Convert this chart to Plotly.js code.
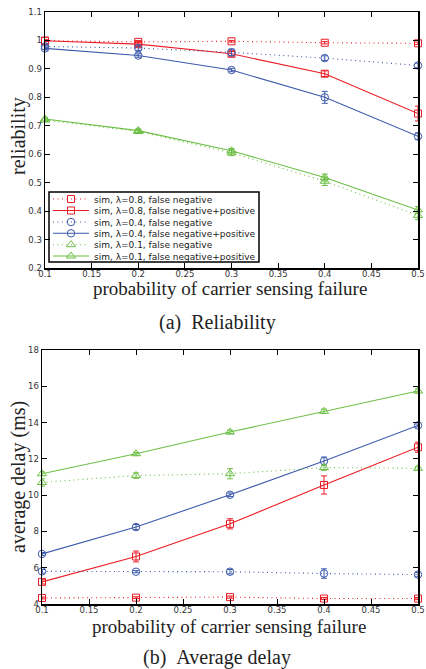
<!DOCTYPE html>
<html>
<head>
<meta charset="utf-8">
<script src="https://cdn.plot.ly/plotly-3.0.1.min.js"></script>
<style>html,body{margin:0;padding:0;background:#fff;}#chart{width:426px;height:669px;}</style>
</head>
<body>
<div id="chart"></div>
<script>
// ---------- data ----------
const xProb = [0.1, 0.2, 0.3, 0.4, 0.5];

// (a) reliability
const relL08FN   = [0.999, 0.995, 0.997, 0.992, 0.990];
const relL08FNe  = [0.003, 0.003, 0.003, 0.004, 0.004];
const relL08FNP  = [0.999, 0.987, 0.953, 0.883, 0.743];
const relL08FNPe = [0.003, 0.008, 0.008, 0.010, 0.026];
const relL04FN   = [0.979, 0.973, 0.958, 0.938, 0.912];
const relL04FNe  = [0.005, 0.008, 0.012, 0.008, 0.008];
const relL04FNP  = [0.972, 0.947, 0.896, 0.800, 0.663];
const relL04FNPe = [0.005, 0.006, 0.006, 0.021, 0.012];
const relL01FN   = [0.720, 0.680, 0.605, 0.505, 0.385];
const relL01FNe  = [0.005, 0.006, 0.010, 0.015, 0.015];
const relL01FNP  = [0.724, 0.683, 0.612, 0.518, 0.404];
const relL01FNPe = [0.005, 0.006, 0.008, 0.012, 0.012];

// (b) average delay (ms)
const dlyL08FN   = [4.33, 4.35, 4.38, 4.30, 4.30];
const dlyL08FNe  = [0.05, 0.05, 0.06, 0.06, 0.06];
const dlyL08FNP  = [5.22, 6.62, 8.42, 10.56, 12.64];
const dlyL08FNPe = [0.12, 0.30, 0.28, 0.50, 0.28];
const dlyL04FN   = [5.80, 5.78, 5.78, 5.68, 5.62];
const dlyL04FNe  = [0.10, 0.06, 0.12, 0.26, 0.12];
const dlyL04FNP  = [6.76, 8.24, 10.02, 11.88, 13.84];
const dlyL04FNPe = [0.08, 0.14, 0.10, 0.22, 0.08];
const dlyL01FN   = [10.70, 11.08, 11.18, 11.52, 11.48];
const dlyL01FNe  = [0.20, 0.15, 0.28, 0.15, 0.10];
const dlyL01FNP  = [11.18, 12.28, 13.48, 14.62, 15.74];
const dlyL01FNPe = [0.10, 0.08, 0.10, 0.12, 0.12];

const seriesNames = [
  "sim, \u03bb=0.8, false negative",
  "sim, \u03bb=0.8, false negative+positive",
  "sim, \u03bb=0.4, false negative",
  "sim, \u03bb=0.4, false negative+positive",
  "sim, \u03bb=0.1, false negative",
  "sim, \u03bb=0.1, false negative+positive"
];

const relTicks = [0.2, 0.3, 0.4, 0.5, 0.6, 0.7, 0.8, 0.9, 1.0, 1.1];
const relTickText = ["0.2","0.3","0.4","0.5","0.6","0.7","0.8","0.9","1","1.1"];
const dlyTicks = [4, 6, 8, 10, 12, 14, 16, 18];
const xTicks = [0.1, 0.15, 0.2, 0.25, 0.3, 0.35, 0.4, 0.45, 0.5];
const xTickText = ["0.1","0.15","0.2","0.25","0.3","0.35","0.4","0.45","0.5"];

// ---------- styling ----------
const W = 426, H = 669;
const px = v => v / W;
const py = v => 1 - v / H;
const RED = "#ec1c24", BLUE = "#3d5aab", GREEN = "#6cbf45";
const colors = [RED, RED, BLUE, BLUE, GREEN, GREEN];
const symbols = ["square-open","square-open","circle-open","circle-open","triangle-up-open","triangle-up-open"];
const dashes = ["1px,3.5px","solid","1px,3.5px","solid","1px,3.5px","solid"];
const sizes = [7, 7, 7.5, 7.5, 8, 8];

const relY = [relL08FN, relL08FNP, relL04FN, relL04FNP, relL01FN, relL01FNP];
const relE = [relL08FNe, relL08FNPe, relL04FNe, relL04FNPe, relL01FNe, relL01FNPe];
const dlyY = [dlyL08FN, dlyL08FNP, dlyL04FN, dlyL04FNP, dlyL01FN, dlyL01FNP];
const dlyE = [dlyL08FNe, dlyL08FNPe, dlyL04FNe, dlyL04FNPe, dlyL01FNe, dlyL01FNPe];

const legendIds = ["legend","legend2","legend3","legend4","legend5","legend6"];

const traces = [];
for (let i = 0; i < 6; i++) {
  traces.push({
    x: xProb, y: relY[i], type: "scatter", mode: "lines+markers",
    name: seriesNames[i], legend: legendIds[i], showlegend: true,
    xaxis: "x", yaxis: "y", cliponaxis: false,
    line: {color: colors[i], width: 1.1, dash: dashes[i]},
    marker: {symbol: symbols[i], size: sizes[i], color: colors[i], line: {width: 1, color: colors[i]}},
    error_y: {type: "data", array: relE[i], visible: true, color: colors[i], thickness: 1, width: 3}
  });
}
for (let i = 0; i < 6; i++) {
  traces.push({
    x: xProb, y: dlyY[i], type: "scatter", mode: "lines+markers",
    name: seriesNames[i], showlegend: false,
    xaxis: "x2", yaxis: "y2", cliponaxis: false,
    line: {color: colors[i], width: 1.1, dash: dashes[i]},
    marker: {symbol: symbols[i], size: sizes[i], color: colors[i], line: {width: 1, color: colors[i]}},
    error_y: {type: "data", array: dlyE[i], visible: true, color: colors[i], thickness: 1, width: 3}
  });
}

const tickFont = {family: "DejaVu Sans", size: 8.5, color: "#333"};
const axBase = {
  showline: true, linecolor: "#000", linewidth: 1.5, mirror: "ticks",
  ticks: "inside", ticklen: 5, tickwidth: 1, tickcolor: "#000",
  showgrid: false, zeroline: false, tickfont: tickFont, automargin: false
};

const legRows = [199, 210.5, 222, 233.3, 244.7, 256];
const layout = {
  width: W, height: H,
  margin: {l: 0, r: 0, t: 0, b: 0},
  paper_bgcolor: "#fff", plot_bgcolor: "#fff",
  showlegend: true,
  xaxis: Object.assign({}, axBase, {domain: [px(45), px(418)], range: [0.1, 0.5], tickvals: xTicks, ticktext: xTickText, anchor: "y", ticklabelstandoff: -3}),
  yaxis: Object.assign({}, axBase, {domain: [py(268), py(12)], range: [0.2, 1.1], tickvals: relTicks, ticktext: relTickText, anchor: "x"}),
  xaxis2: Object.assign({}, axBase, {domain: [px(42), px(418)], range: [0.1, 0.5], tickvals: xTicks, ticktext: xTickText, anchor: "y2", ticklabelstandoff: -3}),
  yaxis2: Object.assign({}, axBase, {domain: [py(604), py(350)], range: [4, 18], tickvals: dlyTicks, anchor: "x2"}),
  shapes: [{
    type: "rect", xref: "paper", yref: "paper",
    x0: px(49), x1: px(259), y0: py(262), y1: py(192),
    line: {color: "#000", width: 1.5}, fillcolor: "rgba(255,255,255,0)", layer: "above"
  }],
  annotations: [
    {text: "probability of carrier sensing failure", x: px(230), y: py(288.5), xref: "paper", yref: "paper", xanchor: "center", yanchor: "middle", showarrow: false, font: {family: "Liberation Serif", size: 19, color: "#222"}},
    {text: "probability of carrier sensing failure", x: px(229), y: py(626.5), xref: "paper", yref: "paper", xanchor: "center", yanchor: "middle", showarrow: false, font: {family: "Liberation Serif", size: 19, color: "#222"}},
    {text: "reliability", x: px(18), y: py(136), xref: "paper", yref: "paper", xanchor: "center", yanchor: "middle", textangle: -90, showarrow: false, font: {family: "Liberation Serif", size: 20, color: "#222"}},
    {text: "average delay (ms)", x: px(19), y: py(477), xref: "paper", yref: "paper", xanchor: "center", yanchor: "middle", textangle: -90, showarrow: false, font: {family: "Liberation Serif", size: 20, color: "#222"}},
    {text: "(a)\u2002Reliability", x: px(217), y: py(322), xref: "paper", yref: "paper", xanchor: "center", yanchor: "middle", showarrow: false, font: {family: "Liberation Serif", size: 20, color: "#222"}},
    {text: "(b)\u2002Average delay", x: px(217), y: py(657), xref: "paper", yref: "paper", xanchor: "center", yanchor: "middle", showarrow: false, font: {family: "Liberation Serif", size: 20, color: "#222"}}
  ]
};
for (let i = 0; i < 6; i++) {
  layout[legendIds[i]] = {
    x: px(48), xanchor: "left", y: py(legRows[i]), yanchor: "middle",
    bgcolor: "rgba(0,0,0,0)", borderwidth: 0,
    font: {family: "DejaVu Sans", size: 9, color: "#222"},
    tracegroupgap: 0, itemwidth: 36
  };
}

Plotly.newPlot("chart", traces, layout, {displayModeBar: false, staticPlot: true});
</script>
</body>
</html>
